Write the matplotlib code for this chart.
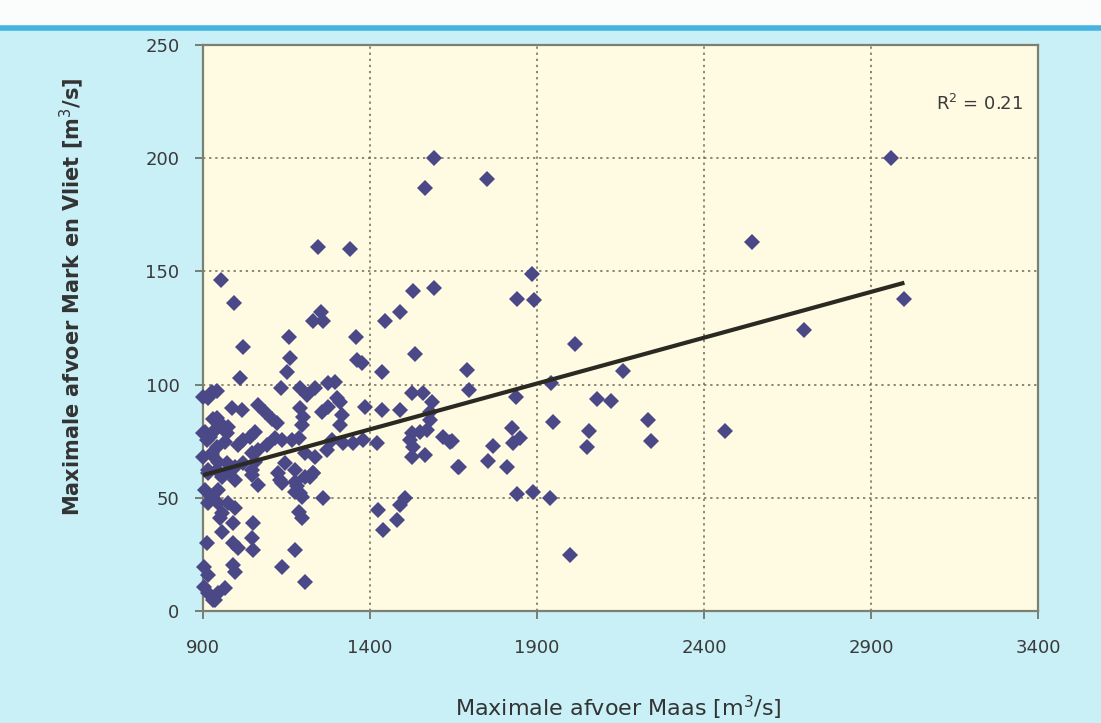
import numpy as np
import matplotlib
matplotlib.use('Agg')
import matplotlib.pyplot as plt
from matplotlib.lines import Line2D

# ============================================================================
# Data
# ============================================================================

maas = [
    1592, 1565, 1243, 1340, 953, 993, 1252, 1228, 1258, 1445, 1490, 1530, 1592,
    1157, 1357,
    1751, 1884, 1839, 1891, 2014, 2545,
    1691, 1697, 1836, 1942, 2157, 2081, 2122, 1947, 2057, 2049, 2231, 2241,
    2463, 1646, 1666, 1767, 1752, 1811, 1826, 1849, 1829, 1839, 1889, 1939,
    1999, 2960, 2700, 3000,
    1021, 1160, 1150, 1011, 926, 916, 1134, 1190, 1210, 1235, 1275,
    986, 1016, 1066, 1086, 1106, 1121, 1190, 1200, 1195, 1255, 1275,
    941, 956, 936, 976, 971, 966, 1056, 1041, 906, 911, 1021, 1006,
    1116, 1136, 1166, 1186, 1093, 1066, 1205, 1235, 1270,
    926, 946, 971, 996, 1021, 1046, 1056, 916, 976, 1046, 1146, 1176,
    916, 956, 996, 1046, 1066, 1126, 1136, 1176, 1205, 1230,
    906, 926, 946, 916, 946, 976, 996, 956, 951,
    1176, 1195, 1260, 1186, 1195, 991, 956, 1051, 1046, 1051, 991, 1006,
    911, 1176, 903, 916, 991, 996, 1136, 1205,
    903, 916, 936, 930, 966, 946,
    1360, 1375, 1535, 1435, 1295, 1300, 1310, 1525, 1560, 1585, 1580,
    1385, 1435, 1490, 1315, 1310, 1580, 1285, 1320, 1350, 1380, 1420,
    1525, 1550, 1570, 1520, 1530, 1620, 1640, 1525, 1565, 1664,
    1425, 1440, 1480, 1490, 1505,
    1180, 1190, 1220, 1230, 1131,
    901, 921, 941, 901, 901,
    931, 941, 921, 926, 941, 941,
]

mark_vliet = [
    200, 187, 160.6, 160, 146, 136, 132, 128, 128, 128, 132, 141.5, 142.5,
    121, 121,
    191, 148.7, 137.7, 137.4, 118, 163,
    106.4, 97.6, 94.7, 100.6, 106, 93.6, 92.8, 83.6, 79.6, 72.3, 84.4, 75.2,
    79.6, 75, 63.5, 73, 66.4, 63.7, 80.7, 76.3, 74, 51.7, 52.7, 49.8,
    24.7, 200, 124, 138,
    116.7, 111.6, 105.7, 102.8, 96.9, 94, 98.4, 98.4, 95.4, 98.4, 100.6,
    89.5, 88.8, 91, 88, 85, 82.9, 89.5, 85.8, 82.2, 88, 90.2,
    85.1, 82.2, 80, 81.4, 78.5, 74.8, 79.2, 77, 79.2, 75.5, 75.5, 73.3,
    76.3, 75.5, 75.5, 76.3, 73.3, 71.1, 69.7, 68.2, 71.1,
    68.9, 66, 65.3, 63.7, 65.3, 69.7, 66, 62.3, 61.5, 62.3, 65.3, 62.3,
    60.8, 59.3, 57.9, 60, 55.7, 60.8, 56.4, 57.1, 59.3, 60.8,
    53.4, 50.5, 53.4, 47.6, 47.6, 47.6, 45.4, 43.2, 41,
    52.7, 50.5, 49.8, 43.9, 41, 38.7, 35, 38.7, 32.1, 26.9, 29.9, 27.7,
    29.9, 26.9, 19.5, 15.9, 20.3, 17.4, 19.6, 12.9,
    10.7, 7.8, 4.9, 5, 10, 7.8,
    110.9, 109.4, 113.5, 105.7, 101.3, 94, 92.5, 96.2, 96.2, 92.5, 88,
    90.2, 88.8, 88.8, 86.6, 82.2, 84.4, 75.5, 74, 74, 75.5, 74,
    78.5, 79.2, 80, 75.5, 72.6, 77, 74.8, 68.2, 68.9, 63.7,
    44.6, 35.8, 40.2, 46.8, 49.8,
    55, 52, 59, 61, 58,
    94.7, 95.4, 97, 78.5, 68,
    85, 81, 77, 69.7, 72.6, 62.3,
]

# regression line end points
trend_x = [900, 3000]
trend_y = [60, 145]

x_ticks = [900, 1400, 1900, 2400, 2900, 3400]
y_ticks = [0, 50, 100, 150, 200, 250]

# ============================================================================
# Figure
# ============================================================================

W, H = 1101, 723
fig = plt.figure(figsize=(W / 100, H / 100), dpi=100)
fig.patch.set_facecolor('#c8f0f6')

# white band + blue rule at the top
fig.patches.append(plt.Rectangle((0, 1 - 26 / H), 1, 26 / H, transform=fig.transFigure,
                                 facecolor='#fbfdfd', edgecolor='none', zorder=0))
fig.lines.append(Line2D([0, 1], [1 - 28 / H, 1 - 28 / H], transform=fig.transFigure,
                        color='#45b4e0', lw=4))

ax = fig.add_axes([203 / W, (H - 611) / H, (1038 - 203) / W, (611 - 45) / H])
ax.set_facecolor('#fffbe3')

ax.plot(maas, mark_vliet, linestyle='none', marker='D', ms=8.5,
        color='#4b4887', markeredgewidth=0, clip_on=False, zorder=3)
ax.plot(trend_x, trend_y, color='#2a2a22', lw=3, zorder=4, solid_capstyle='butt')

ax.set_xlim(900, 3400)
ax.set_ylim(0, 250)
ax.set_xticks(x_ticks)
ax.set_yticks(y_ticks)

ax.grid(True, linestyle=(0, (1.5, 2.5)), color='#6a6a58', lw=1.1)
ax.set_axisbelow(True)

for s in ax.spines.values():
    s.set_color('#7d8070')
    s.set_linewidth(1.6)

ax.tick_params(axis='both', direction='out', length=6, width=1.2, color='#6a6a60',
               labelsize=13, labelcolor='#3a3a3a')
ax.tick_params(axis='y', pad=11)
ax.tick_params(axis='x', pad=14)

ax.text(3355, 224, 'R$^2$ = 0.21', ha='right', va='center', fontsize=13,
        color='#3a3a3a')

fig.text(72 / W, 1 - 297 / H, 'Maximale afvoer Mark en Vliet [m$^3$/s]', rotation=90,
         ha='center', va='center', fontsize=15, fontweight='bold', color='#333333')
fig.text(618 / W, 1 - 708 / H, 'Maximale afvoer Maas [m$^3$/s]',
         ha='center', va='center', fontsize=16, color='#333333')

plt.savefig('out.png', dpi=100, facecolor=fig.get_facecolor())
